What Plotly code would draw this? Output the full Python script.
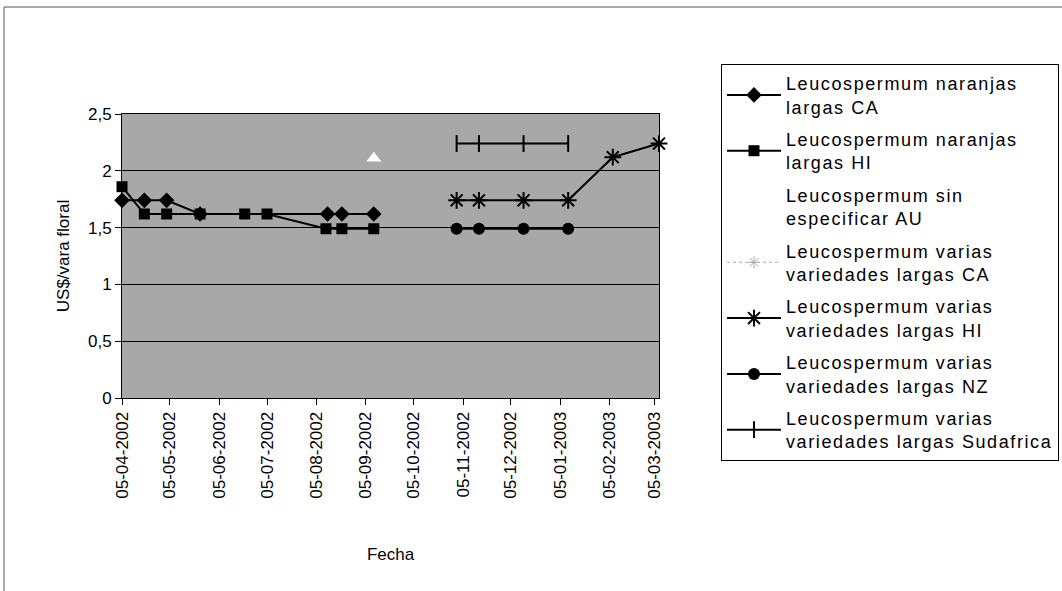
import plotly.graph_objects as go

# ---- data ----
ca_dates = ["2002-04-05", "2002-04-19", "2002-05-03", "2002-05-24", "2002-08-12", "2002-08-21", "2002-09-10"]
ca_vals = [1.74, 1.74, 1.74, 1.62, 1.62, 1.62, 1.62]

hi_dates = ["2002-04-05", "2002-04-19", "2002-05-03", "2002-05-24", "2002-06-21", "2002-07-05",
            "2002-08-11", "2002-08-21", "2002-09-10"]
hi_vals = [1.86, 1.62, 1.62, 1.62, 1.62, 1.62, 1.49, 1.49, 1.49]

au_dates = ["2002-09-10"]
au_vals = [2.11]

ca_var_dates = [None]
ca_var_vals = [None]

hi_var_dates = ["2002-11-01", "2002-11-15", "2002-12-13", "2003-01-10", "2003-02-07", "2003-03-08"]
hi_var_vals = [1.74, 1.74, 1.74, 1.74, 2.12, 2.24]

nz_dates = ["2002-11-01", "2002-11-15", "2002-12-13", "2003-01-10"]
nz_vals = [1.49, 1.49, 1.49, 1.49]

sa_dates = ["2002-11-01", "2002-11-15", "2002-12-13", "2003-01-10"]
sa_vals = [2.24, 2.24, 2.24, 2.24]

tick_dates = ["2002-04-05", "2002-05-05", "2002-06-05", "2002-07-05", "2002-08-05", "2002-09-05",
              "2002-10-05", "2002-11-05", "2002-12-05", "2003-01-05", "2003-02-05", "2003-03-05"]
tick_labels = ["05-04-2002", "05-05-2002", "05-06-2002", "05-07-2002", "05-08-2002", "05-09-2002",
               "05-10-2002", "05-11-2002", "05-12-2002", "05-01-2003", "05-02-2003", "05-03-2003"]

legend_lines = [("Leucospermum naranjas", "largas CA"),
                ("Leucospermum naranjas", "largas HI"),
                ("Leucospermum sin", "especificar AU"),
                ("Leucospermum varias", "variedades largas CA"),
                ("Leucospermum varias", "variedades largas HI"),
                ("Leucospermum varias", "variedades largas NZ"),
                ("Leucospermum varias", "variedades largas Sudafrica")]


def sp(t):
    return "<span style='letter-spacing:1.6px'>" + t + "</span>"


names = [sp(a) + "<br>" + sp(b) for a, b in legend_lines]

FONT = "Liberation Sans, Arial, sans-serif"

fig = go.Figure()
fig.add_trace(go.Scatter(x=ca_dates, y=ca_vals, name=names[0], mode="lines+markers", legendgroup="a",
                         line=dict(color="black", width=2),
                         marker=dict(symbol="diamond", size=12, color="black"), cliponaxis=False))
fig.add_trace(go.Scatter(x=hi_dates, y=hi_vals, name=names[1], mode="lines+markers", legendgroup="b",
                         line=dict(color="black", width=2),
                         marker=dict(symbol="square", size=11, color="black"), cliponaxis=False))
fig.add_trace(go.Scatter(x=au_dates, y=au_vals, name=names[2], mode="markers", legendgroup="c",
                         marker=dict(symbol="triangle-up", size=13, color="white"), cliponaxis=False))
fig.add_trace(go.Scatter(x=ca_var_dates, y=ca_var_vals, name=names[3], mode="lines+markers", legendgroup="d",
                         line=dict(color="#aaaaaa", width=1, dash="dot"),
                         marker=dict(symbol="asterisk-open", size=10, line=dict(color="#888888", width=1))))
fig.add_trace(go.Scatter(x=hi_var_dates, y=hi_var_vals, name=names[4], mode="lines+markers", legendgroup="e",
                         line=dict(color="black", width=2),
                         marker=dict(symbol="asterisk-open", size=14, line=dict(color="black", width=2)),
                         cliponaxis=False))
fig.add_trace(go.Scatter(x=nz_dates, y=nz_vals, name=names[5], mode="lines+markers", legendgroup="f",
                         line=dict(color="black", width=2),
                         marker=dict(symbol="circle", size=12, color="black"), cliponaxis=False))
fig.add_trace(go.Scatter(x=sa_dates, y=sa_vals, name=names[6], mode="lines+markers", legendgroup="g",
                         line=dict(color="black", width=2),
                         marker=dict(symbol="line-ns-open", size=12, line=dict(color="black", width=2)),
                         cliponaxis=False))

# outer frame (left and top edges as in the scan)
L, R, T, B = 122, 659, 114, 398


def px(x):
    return (x - L) / (R - L)


def py(y):
    return (B - y) / (B - T)


shapes = [
    dict(type="line", xref="paper", yref="paper", x0=px(4), x1=px(1062), y0=py(7), y1=py(7),
         line=dict(color="#555555", width=1)),
    dict(type="line", xref="paper", yref="paper", x0=px(4), x1=px(4), y0=py(7), y1=py(591),
         line=dict(color="#555555", width=1)),
]

fig.update_layout(
    width=1062, height=591,
    margin=dict(l=L, r=1062 - R, t=T, b=591 - B, autoexpand=False),
    paper_bgcolor="white",
    plot_bgcolor="#a8a8a8",
    separators=",.",
    font=dict(family=FONT, size=17, color="black"),
    showlegend=True,
    legend=dict(x=px(721), y=py(64), xanchor="left", yanchor="top",
                bgcolor="white", bordercolor="black", borderwidth=1,
                font=dict(family=FONT, size=18, color="black"),
                tracegroupgap=6, itemwidth=54, maxheight=560),
    shapes=shapes,
)

fig.update_xaxes(
    type="date",
    range=["2002-04-05", "2003-03-08"],
    tickmode="array", tickvals=tick_dates, ticktext=tick_labels,
    tickangle=-90, ticks="outside", ticklen=6, tickcolor="black",
    showline=True, linecolor="black", linewidth=1, mirror=True,
    showgrid=False, zeroline=False,
    title=dict(text="Fecha", font=dict(family=FONT, size=17), standoff=50),
    tickfont=dict(family=FONT, size=17),
)
fig.update_yaxes(
    range=[0, 2.5], dtick=0.5,
    ticks="outside", ticklen=6, tickcolor="black",
    showline=True, linecolor="black", linewidth=1, mirror=True,
    showgrid=True, gridcolor="black", gridwidth=1, zeroline=False,
    title=dict(text="US$/vara floral", font=dict(family=FONT, size=17), standoff=14),
    tickfont=dict(family=FONT, size=17),
)

fig.write_html("out.html")
